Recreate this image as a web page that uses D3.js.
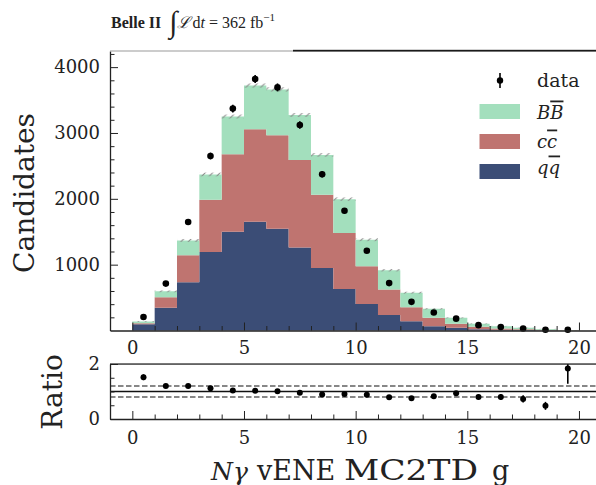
<!DOCTYPE html>
<html>
<head>
<meta charset="utf-8">
<script src="https://cdn.jsdelivr.net/npm/d3@7"></script>
<style>
  body { margin: 0; background: #fff; }
  svg { display: block; }
  text { font-family: "DejaVu Serif", serif; fill: #222; }
</style>
</head>
<body>
<svg id="chart" width="596" height="485"></svg>
<script>
// ---- binning and counts -------------------------------------------------
const binEdges = [0,1,2,3,4,5,6,7,8,9,10,11,12,13,14,15,16,17,18,19,20];
const qqbar  = [95, 344, 732, 1192, 1500, 1652, 1545, 1262, 950, 632, 404, 237, 141, 65, 40, 20, 10, 6, 3, 1];
const ccbar  = [15, 161, 409, 793, 1177, 1404, 1420, 1329, 1111, 848, 570, 384, 212, 127, 61, 36, 22, 13, 7, 2];
const bbbar  = [25, 90, 227, 385, 573, 664, 697, 682, 606, 515, 405, 294, 222, 137, 91, 45, 33, 22, 13, 3];
const dataCounts = [205, 712, 1647, 2650, 3370, 3820, 3692, 3121, 2374, 1818, 1212, 720, 435, 273, 180, 81, 52, 30, 11, 11];
const mcUnc  = [6, 14, 22, 28, 30, 32, 32, 30, 28, 26, 22, 18, 14, 10, 8, 6, 5, 4, 3, 2];

// ---- ticks ----------------------------------------------------------------
const xMajor = [0, 5, 10, 15, 20];
const xMinor = [1,2,3,4,6,7,8,9,11,12,13,14,16,17,18,19];
const yMajor = [1000, 2000, 3000, 4000];
const yMinor = [200,400,600,800,1200,1400,1600,1800,2200,2400,2600,2800,3200,3400,3600,3800,4200];
const rMajor = [0, 2];
const rMinor = [0.5, 1, 1.5];
const rBand  = [0.8, 1.2];

const colors = { q: "#3b4d76", c: "#bf7470", b: "#a3dfbd" };
const tickFont = "18px";

const svg = d3.select("#chart");

// ---- scales ---------------------------------------------------------------
const x  = d3.scaleLinear().domain([-1, 21]).range([110, 601.3]);
const y  = d3.scaleLinear().domain([0, 4245]).range([330.5, 51]);
const yr = d3.scaleLinear().domain([0, 2]).range([419, 364]);

// ---- stacked step histogram ---------------------------------------------
const rows = qqbar.map((v, i) => ({ lo: binEdges[i], hi: binEdges[i + 1], q: v, c: ccbar[i], b: bbbar[i] }));
const stacked = d3.stack().keys(["q", "c", "b"])(rows);

const stepArea = d3.area()
  .curve(d3.curveStepAfter)
  .x(p => x(p.x)).y0(p => y(p.y0)).y1(p => y(p.y1));

stacked.forEach(layer => {
  const pts = layer.map((s, i) => ({ x: rows[i].lo, y0: s[0], y1: s[1] }));
  const last = layer[layer.length - 1];
  pts.push({ x: rows[rows.length - 1].hi, y0: last[0], y1: last[1] });
  svg.append("path").attr("d", stepArea(pts)).attr("fill", colors[layer.key]);
});

// MC uncertainty band on top of the stack
const binW = x(1) - x(0);
const defs = svg.append("defs");
const hatchW = binW / 3;
const pat = defs.append("pattern").attr("id", "hatch")
  .attr("patternUnits", "userSpaceOnUse")
  .attr("x", x(0)).attr("y", 0)
  .attr("width", hatchW).attr("height", hatchW);
pat.append("path")
  .attr("d", `M0,${hatchW} L${hatchW},0 M${-hatchW/2},${hatchW/2} L${hatchW/2},${-hatchW/2} M${hatchW/2},${hatchW*1.5} L${hatchW*1.5},${hatchW/2}`)
  .attr("stroke", "#8a8a8a").attr("stroke-width", 1.1);

const totals = rows.map(r => r.q + r.c + r.b);
svg.append("g").selectAll("rect").data(rows).join("rect")
  .attr("x", d => x(d.lo)).attr("width", binW)
  .attr("y", (d, i) => y(totals[i] + mcUnc[i]))
  .attr("height", (d, i) => y(totals[i] - mcUnc[i]) - y(totals[i] + mcUnc[i]))
  .attr("fill", "url(#hatch)");

// ---- data points -------------------------------------------------------
const mid = i => (binEdges[i] + binEdges[i + 1]) / 2;
const dataG = svg.append("g");
dataCounts.forEach((d, i) => {
  const e = Math.sqrt(d);
  dataG.append("line")
    .attr("x1", x(mid(i))).attr("x2", x(mid(i)))
    .attr("y1", y(d - e)).attr("y2", y(d + e))
    .attr("stroke", "#000").attr("stroke-width", 1.6);
  dataG.append("circle").attr("cx", x(mid(i))).attr("cy", y(d)).attr("r", 3.3).attr("fill", "#000");
});

// ---- main panel axes ----------------------------------------------------
function styleAxis(g) {
  g.selectAll("path.domain").attr("stroke", "#222").attr("stroke-width", 1.3);
  g.selectAll(".tick line").attr("stroke", "#222").attr("stroke-width", 1);
  g.selectAll(".tick text").style("font-family", "DejaVu Serif").style("font-size", tickFont).attr("fill", "#333");
}
function minorTicks(g) {
  g.select("path.domain").remove();
  g.selectAll(".tick line").attr("stroke", "#222");
}

const xAxisMain = svg.append("g").attr("transform", "translate(0,330.5)")
  .call(d3.axisBottom(x).tickValues(xMajor).tickSizeInner(-8).tickSizeOuter(0).tickPadding(11).tickFormat(d3.format("d")));
styleAxis(xAxisMain);
svg.append("g").attr("transform", "translate(0,330.5)")
  .call(d3.axisBottom(x).tickValues(xMinor).tickSizeInner(-4.5).tickSizeOuter(0).tickFormat(""))
  .call(minorTicks);

const yAxisMain = svg.append("g").attr("transform", "translate(110,0)")
  .call(d3.axisLeft(y).tickValues(yMajor).tickSizeInner(-8).tickSizeOuter(0).tickPadding(10).tickFormat(d3.format("d")));
styleAxis(yAxisMain);
svg.append("g").attr("transform", "translate(110,0)")
  .call(d3.axisLeft(y).tickValues(yMinor).tickSizeInner(-4.5).tickSizeOuter(0).tickFormat(""))
  .call(minorTicks);

// top edge of the main panel: light on the left, dark on the right
svg.append("rect").attr("x", 110).attr("y", 50.5).attr("width", 183).attr("height", 1)
  .attr("fill", "#9a9a9a");
svg.append("rect").attr("x", 293).attr("y", 49.8).attr("width", 308).attr("height", 1.8)
  .attr("fill", "#1a1a1a");

svg.append("text")
  .attr("transform", "translate(34,193) rotate(-90)")
  .attr("text-anchor", "middle")
  .style("font-size", "28px")
  .text("Candidates");

// ---- legend -----------------------------------------------------------
const leg = svg.append("g");
leg.append("line").attr("x1", 500).attr("x2", 500).attr("y1", 73).attr("y2", 88)
  .attr("stroke", "#000").attr("stroke-width", 1.6);
leg.append("circle").attr("cx", 500).attr("cy", 80.5).attr("r", 3.2).attr("fill", "#000");
leg.append("text").attr("x", 537).attr("y", 87).style("font-size", "19px").text("data");

const legItems = [
  { key: "b", top: 104, base: 118.5, a: "B" },
  { key: "c", top: 134, base: 147.5, a: "c" },
  { key: "q", top: 164, base: 173.5, a: "q" }
];
legItems.forEach(it => {
  leg.append("rect").attr("x", 479.5).attr("y", it.top).attr("width", 40.5).attr("height", 15)
    .attr("fill", colors[it.key]);
  const t = leg.append("text").attr("x", 537).attr("y", it.base)
    .style("font-size", "18px").style("font-style", "italic");
  t.append("tspan").text(it.a);
  t.append("tspan").style("text-decoration", "overline").text(it.a);
});

// ---- header ---------------------------------------------------------------
const hdr = svg.append("text").attr("x", 111).attr("y", 28).style("font-family", "Liberation Serif, serif");
hdr.append("tspan").style("font-weight", "bold").style("font-size", "16px").text("Belle II");
hdr.append("tspan").attr("dx", 8).attr("dy", 4).style("font-size", "30px").text("∫");
hdr.append("tspan").attr("dy", -4).style("font-size", "16px").style("font-style", "italic").text("ℒ");
hdr.append("tspan").attr("dx", 2).style("font-size", "16px").text("d");
hdr.append("tspan").style("font-size", "16px").style("font-style", "italic").text("t");
hdr.append("tspan").style("font-size", "16px").text(" = 362 fb");
hdr.append("tspan").attr("dy", -7).style("font-size", "11px").text("−1");

// ---- ratio panel ------------------------------------------------------
const ratio = dataCounts.map((d, i) => d / totals[i]);
const ratioErr = dataCounts.map((d, i) => Math.sqrt(d) / totals[i]);

defs.append("clipPath").attr("id", "rclip").append("rect")
  .attr("x", 110).attr("y", 364).attr("width", 491).attr("height", 55);

svg.append("line").attr("x1", 110).attr("x2", 601).attr("y1", yr(1)).attr("y2", yr(1))
  .attr("stroke", "#111").attr("stroke-width", 1.4);
rBand.forEach(v => {
  svg.append("line").attr("x1", 110).attr("x2", 601).attr("y1", yr(v)).attr("y2", yr(v))
    .attr("stroke", "#111").attr("stroke-width", 1.2).attr("stroke-dasharray", "5.5,2.5");
});

const rg = svg.append("g").attr("clip-path", "url(#rclip)");
ratio.forEach((r, i) => {
  rg.append("line")
    .attr("x1", x(mid(i))).attr("x2", x(mid(i)))
    .attr("y1", yr(r - ratioErr[i])).attr("y2", yr(r + ratioErr[i]))
    .attr("stroke", "#000").attr("stroke-width", 1.6);
  rg.append("circle").attr("cx", x(mid(i))).attr("cy", yr(r)).attr("r", 3).attr("fill", "#000");
});

const xAxisR = svg.append("g").attr("transform", "translate(0,419)")
  .call(d3.axisBottom(x).tickValues(xMajor).tickSizeInner(-8).tickSizeOuter(0).tickPadding(12).tickFormat(d3.format("d")));
styleAxis(xAxisR);
svg.append("g").attr("transform", "translate(0,419)")
  .call(d3.axisBottom(x).tickValues(xMinor).tickSizeInner(-4.5).tickSizeOuter(0).tickFormat(""))
  .call(minorTicks);

const yAxisR = svg.append("g").attr("transform", "translate(110,0)")
  .call(d3.axisLeft(yr).tickValues(rMajor).tickSizeInner(-8).tickSizeOuter(0).tickPadding(10).tickFormat(d3.format("d")));
styleAxis(yAxisR);
svg.append("g").attr("transform", "translate(110,0)")
  .call(d3.axisLeft(yr).tickValues(rMinor).tickSizeInner(-4.5).tickSizeOuter(0).tickFormat(""))
  .call(minorTicks);

svg.append("rect").attr("x", 110).attr("y", 363.4).attr("width", 491).attr("height", 1.3)
  .attr("fill", "#222");

svg.append("text")
  .attr("transform", "translate(62,392) rotate(-90)")
  .attr("text-anchor", "middle")
  .style("font-size", "28px")
  .text("Ratio");

// x-axis title
const xt = svg.append("text").attr("y", 480).style("font-size", "27px");
xt.append("tspan").attr("x", 211).style("font-size", "25px").style("font-style", "italic").text("Nγ");
xt.append("tspan").attr("x", 257).text("vENE");
xt.append("tspan").attr("x", 344).attr("textLength", 134).attr("lengthAdjust", "spacingAndGlyphs").text("MC2TD");
xt.append("tspan").attr("x", 492).text("g");
</script>
</body>
</html>
